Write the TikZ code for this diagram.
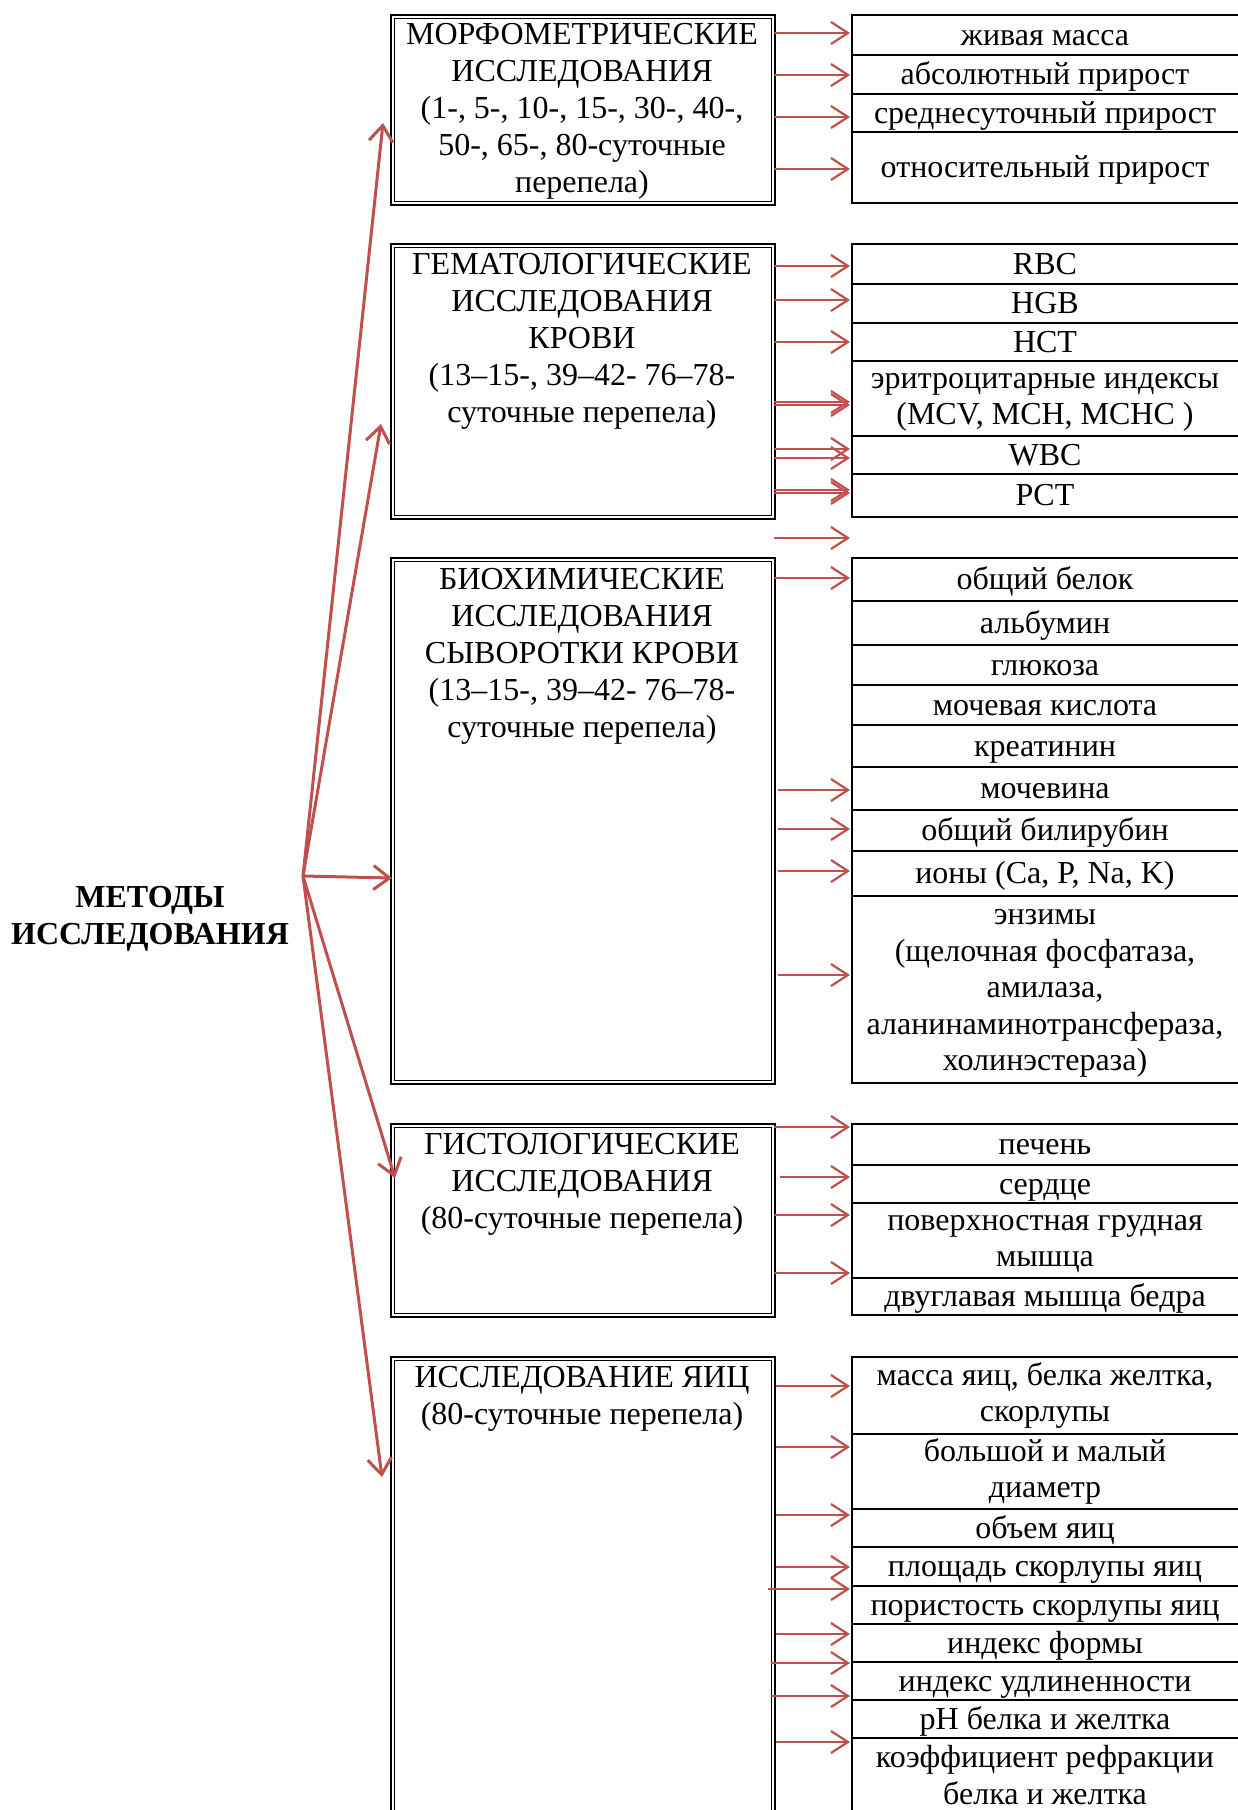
\documentclass[tikz,border=0pt]{standalone}
\usepackage{fontspec}
\setmainfont{Liberation Serif}
\usetikzlibrary{arrows.meta}
\definecolor{arrred}{HTML}{C0504D}
% #1 name, #2 top, #3 height, #4 number of lines, #5 text
\newcommand\rrow[5]{%
  \node[row, minimum height=#3pt] (#1) at (851,#2) {};
  \node[rtext] (#1t) at (1045,{#2+#3/2+11-(#4-1)*18.25-28-(#4>1)*2}) {\rule{0pt}{28pt}#5};
}
\begin{document}
\begin{tikzpicture}[x=1pt,y=-1pt,
  lbox/.style={draw, line width=2.4pt, inner sep=0pt, anchor=north west, minimum width=384pt},
  ltext/.style={anchor=north, align=center, inner sep=0pt, font=\fontsize{32}{37}\selectfont},
  row/.style={draw, line width=1.8pt, minimum width=390pt, inner sep=0pt, anchor=north west},
  rtext/.style={anchor=north, align=center, inner sep=0pt, font=\fontsize{32}{36.5}\selectfont},
  rarr/.style={draw=arrred, line width=2.2pt, -{Straight Barb[length=17pt,width=22pt]}},
  farr/.style={draw=arrred, line width=3pt, -{Straight Barb[length=16pt,width=24pt]}},
  inner/.style={draw, line width=1.1pt}
]
\clip (0,0) rectangle (1238,1810);
\fill[white] (0,0) rectangle (1238,1810);

% left boxes
\node[lbox, minimum height=190pt] (b1) at (390,14) {};
\node[lbox, minimum height=275pt] (b2) at (390,243) {};
\node[lbox, minimum height=526pt] (b3) at (390,557) {};
\node[lbox, minimum height=193pt] (b4) at (390,1123) {};
\node[lbox, minimum height=474pt] (b5) at (390,1356) {};
\foreach \b in {b1,b2,b3,b4,b5}{
  \draw[inner] ([shift={(4.5,4.5)}]\b.north west) rectangle ([shift={(-4.5,-4.5)}]\b.south east);
}
\node[ltext] (t1) at (582,23) {МОРФОМЕТРИЧЕСКИЕ\\ИССЛЕДОВАНИЯ\\(1-, 5-, 10-, 15-, 30-, 40-,\\50-, 65-, 80-суточные\\перепела)};
\node[ltext] (t2) at (582,253) {ГЕМАТОЛОГИЧЕСКИЕ\\ИССЛЕДОВАНИЯ\\КРОВИ\\(13–15-, 39–42- 76–78-\\суточные перепела)};
\node[ltext] (t3) at (582,568) {БИОХИМИЧЕСКИЕ\\ИССЛЕДОВАНИЯ\\СЫВОРОТКИ КРОВИ\\(13–15-, 39–42- 76–78-\\суточные перепела)};
\node[ltext] (t4) at (582,1133) {ГИСТОЛОГИЧЕСКИЕ\\ИССЛЕДОВАНИЯ\\(80-суточные перепела)};
\node[ltext] (t5) at (582,1366) {ИССЛЕДОВАНИЕ ЯИЦ\\(80-суточные перепела)};

% METHODS
\node[align=center, inner sep=0pt, font=\bfseries\fontsize{32}{37}\selectfont] (m) at (150,919) {МЕТОДЫ\\ИССЛЕДОВАНИЯ};

% right rows group 1
\rrow{r11}{14}{40}{1}{живая масса}
\rrow{r12}{54}{39}{1}{абсолютный прирост}
\rrow{r13}{93}{38}{1}{среднесуточный прирост}
\rrow{r14}{131}{71}{1}{относительный прирост}
% group 2
\rrow{r21}{243}{40}{1}{RBC}
\rrow{r22}{283}{39}{1}{HGB}
\rrow{r23}{322}{38}{1}{HCT}
\rrow{r24}{360}{75}{2}{эритроцитарные индексы\\(MCV, MCH, MCHC )}
\rrow{r25}{435}{38}{1}{WBC}
\rrow{r26}{473}{43}{1}{PCT}
% group 3
\rrow{r31}{557}{43}{1}{общий белок}
\rrow{r32}{600}{44}{1}{альбумин}
\rrow{r33}{644}{40}{1}{глюкоза}
\rrow{r34}{684}{40}{1}{мочевая кислота}
\rrow{r35}{724}{42}{1}{креатинин}
\rrow{r36}{766}{43}{1}{мочевина}
\rrow{r37}{809}{41}{1}{общий билирубин}
\rrow{r38}{850}{45}{1}{ионы (Ca, P, Na, K)}
\rrow{r39}{895}{187}{5}{энзимы\\(щелочная фосфатаза,\\амилаза,\\аланинаминотрансфераза,\\холинэстераза)}
% group 4
\rrow{r41}{1123}{41}{1}{печень}
\rrow{r42}{1164}{38}{1}{сердце}
\rrow{r43}{1202}{75}{2}{поверхностная грудная\\мышца}
\rrow{r44}{1277}{37}{1}{двуглавая мышца бедра}
% group 5
\rrow{r51}{1356}{77}{2}{масса яиц, белка желтка,\\скорлупы}
\rrow{r52}{1433}{75}{2}{большой и малый\\диаметр}
\rrow{r53}{1508}{38}{1}{объем яиц}
\rrow{r54}{1546}{39}{1}{площадь скорлупы яиц}
\rrow{r55}{1585}{38}{1}{пористость скорлупы яиц}
\rrow{r56}{1623}{38}{1}{индекс формы}
\rrow{r57}{1661}{38}{1}{индекс удлиненности}
\rrow{r58}{1699}{38}{1}{pH белка и желтка}
\rrow{r59}{1737}{80}{2}{коэффициент рефракции\\белка и желтка}

% right arrows
\foreach \s/\d/\y/\dx in {
  b1/r11/33/-2, b1/r12/75/-2, b1/r13/117/-2, b1/r14/169/-2,
  b2/r21/266/-2, b2/r22/300/-2, b2/r23/342/-2, b2/r24/402/-2, b2/r24/405/-2,
  b2/r25/449/-2, b2/r25/458/-2, b2/r26/490/-2, b2/r26/493/-2, b2/r26/538/-2,
  b3/r31/578/-2, b3/r36/790/2, b3/r37/829/2, b3/r38/871/2, b3/r39/975/2,
  b4/r41/1127/-2, b4/r42/1177/4, b4/r43/1215/-2, b4/r44/1273/-2,
  b5/r51/1386/0, b5/r52/1447/0, b5/r53/1515/0, b5/r54/1567/0, b5/r55/1589/-8,
  b5/r56/1634/0, b5/r57/1663/-5, b5/r58/1696/-5, b5/r59/1742/0}{
  \draw[rarr] ([xshift=\dx pt]\s.east |- 0,\y) -- ([xshift=-1pt]\d.west |- 0,\y);
}

% fan arrows
\coordinate (o) at (303,876);
\draw[farr] (o) -- ([xshift=-7pt]b1.west |- 0,123);
\draw[farr] (o) -- ([xshift=-9pt]b2.west |- 0,424);
\draw[farr] (o) -- ([xshift=2pt]b3.west |- 0,878);
\draw[farr] (o) -- ([xshift=5pt]b4.west |- 0,1178);
\draw[farr] (o) -- ([xshift=-8pt]b5.west |- 0,1477);
\end{tikzpicture}
\end{document}
